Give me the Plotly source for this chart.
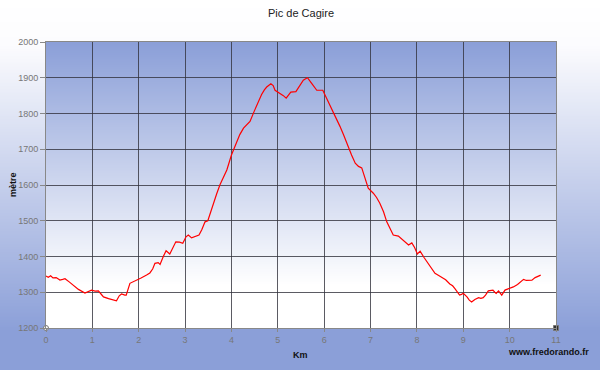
import base64, struct, zlib
import plotly.graph_objects as go

title_text = "Pic de Cagire"
x_title = "Km"
y_title = "mètre"
credit = "www.fredorando.fr"

dist_km = [0.00, 0.05, 0.10, 0.15, 0.22, 0.30, 0.36, 0.41, 0.50, 0.59, 0.70, 0.84, 0.92, 0.98,
           1.06, 1.13, 1.20, 1.24, 1.35, 1.45, 1.52, 1.58, 1.63, 1.70, 1.73, 1.81, 1.90, 1.96,
           2.05, 2.17, 2.24, 2.30, 2.35, 2.42, 2.46, 2.53, 2.59, 2.67, 2.74, 2.80, 2.88, 2.95,
           3.02, 3.07, 3.14, 3.21, 3.30, 3.36, 3.43, 3.49, 3.55, 3.61, 3.68, 3.75, 3.82, 3.90,
           4.00, 4.08, 4.18, 4.26, 4.33, 4.40, 4.49, 4.58, 4.65, 4.71, 4.76, 4.85, 4.90, 4.94,
           5.05, 5.12, 5.18, 5.23, 5.28, 5.39, 5.46, 5.55, 5.60, 5.64, 5.73, 5.80, 5.84, 5.97,
           6.05, 6.12, 6.20, 6.27, 6.34, 6.42, 6.49, 6.55, 6.59, 6.67, 6.74, 6.81, 6.87, 6.95,
           7.06, 7.13, 7.20, 7.28, 7.35, 7.42, 7.49, 7.60, 7.70, 7.82, 7.89, 7.95,
           8.01, 8.07, 8.15, 8.25, 8.32, 8.39, 8.47, 8.54, 8.62, 8.71, 8.77, 8.82, 8.88, 8.92, 8.96,
           9.00, 9.08, 9.13, 9.18, 9.25, 9.33, 9.38, 9.43, 9.48, 9.54, 9.60, 9.64, 9.68, 9.71, 9.76,
           9.83, 9.90, 10.00, 10.08, 10.17, 10.24, 10.30, 10.36, 10.42, 10.48, 10.55, 10.62, 10.67]
altitude_m = [1345, 1342, 1346, 1340, 1341, 1334, 1336, 1338, 1329, 1320, 1308, 1298, 1302, 1306,
              1303, 1304, 1293, 1287, 1282, 1278, 1276, 1290, 1295, 1292, 1292, 1325, 1330, 1334,
              1340, 1348, 1354, 1365, 1381, 1383, 1378, 1400, 1416, 1407, 1425, 1441, 1440, 1437,
              1455, 1460, 1452, 1455, 1460, 1475, 1497, 1500, 1525, 1549, 1575, 1600, 1620, 1642,
              1684, 1708, 1741, 1759, 1770, 1778, 1806, 1834, 1853, 1866, 1874, 1883, 1878, 1865,
              1857, 1850, 1843, 1852, 1860, 1861, 1874, 1893, 1897, 1900, 1884, 1870, 1865, 1865,
              1843, 1825, 1806, 1785, 1764, 1740, 1717, 1694, 1684, 1661, 1652, 1648, 1625, 1591,
              1577, 1565, 1549, 1525, 1497, 1480, 1460, 1457, 1446, 1432, 1438, 1425,
              1407, 1415, 1398, 1379, 1368, 1353, 1347, 1341, 1335, 1323, 1318, 1310, 1300, 1292, 1294,
              1297, 1287, 1278, 1273, 1280, 1285, 1283, 1285, 1292, 1304, 1305, 1306, 1300, 1297, 1304,
              1292, 1306, 1310, 1315, 1322, 1330, 1336, 1333, 1334, 1334, 1341, 1344, 1348]

corner_x = [0, 11]
corner_y = [1200, 1200]

x_ticks = list(range(0, 12))
y_ticks = list(range(1200, 2001, 100))


def gradient_png(stops, height=256, width=2):
    def col(t):
        for (t0, c0), (t1, c1) in zip(stops[:-1], stops[1:]):
            if t0 <= t <= t1:
                f = 0 if t1 == t0 else (t - t0) / (t1 - t0)
                return tuple(int(round(a + (b - a) * f)) for a, b in zip(c0, c1))
        return stops[-1][1] if t > stops[-1][0] else stops[0][1]
    raw = b""
    for r in range(height):
        c = col(r / (height - 1))
        raw += b"\x00" + bytes(c) * width
    def chunk(tag, data):
        return struct.pack(">I", len(data)) + tag + data + struct.pack(">I", zlib.crc32(tag + data) & 0xffffffff)
    png = b"\x89PNG\r\n\x1a\n" + chunk(b"IHDR", struct.pack(">IIBBBBB", width, height, 8, 2, 0, 0, 0))
    png += chunk(b"IDAT", zlib.compress(raw)) + chunk(b"IEND", b"")
    return "data:image/png;base64," + base64.b64encode(png).decode()


BLUE = (139, 159, 216)
WHITE = (255, 255, 255)
outer_bg = gradient_png([(0.0, WHITE), (0.12, (252, 252, 254)), (0.9, BLUE), (1.0, BLUE)])
plot_bg = gradient_png([(0.0, BLUE), (0.85, WHITE), (1.0, WHITE)])

L, R, T, B = 46, 44, 42, 42
W, H = 600, 370
pw, ph = W - L - R, H - T - B

fig = go.Figure()
fig.add_trace(go.Scatter(x=dist_km, y=altitude_m, mode="lines",
                         line=dict(color="#ff0000", width=1.2), hoverinfo="x+y"))
fig.add_trace(go.Scatter(x=corner_x, y=corner_y, mode="markers", cliponaxis=False,
                         marker=dict(size=5, color=["#ffffff", "#333333"],
                                     symbol=["circle", "square"],
                                     line=dict(color="#777777", width=1))))

grid_col = "rgba(50,50,60,0.8)"
fig.update_layout(
    width=W, height=H,
    margin=dict(l=L, r=R, t=T, b=B),
    showlegend=False,
    paper_bgcolor="rgba(0,0,0,0)",
    plot_bgcolor="rgba(0,0,0,0)",
    font=dict(family="Liberation Sans, Arial, sans-serif", size=9, color="#777777"),
    title=dict(text=title_text, x=0.5, xanchor="center", y=1 - 13 / H, yanchor="middle",
               xref="paper", font=dict(size=11, color="#222222")),
    xaxis=dict(range=[0, 11], tickvals=x_ticks, showgrid=True, gridcolor=grid_col, gridwidth=1,
               zeroline=False, showline=True, linecolor="#888888", linewidth=1, mirror=True,
               ticks="outside", ticklen=3, tickcolor="#888888", tickfont=dict(size=9, color="#777777")),
    yaxis=dict(range=[1200, 2000], tickvals=y_ticks, showgrid=True, gridcolor=grid_col, gridwidth=1,
               zeroline=False, showline=True, linecolor="#888888", linewidth=1, mirror=True,
               ticks="outside", ticklen=5, tickcolor="#888888", tickfont=dict(size=9, color="#777777")),
    images=[
        dict(source=outer_bg, xref="paper", yref="paper", x=-L / pw, y=1 + T / ph,
             sizex=W / pw, sizey=H / ph, xanchor="left", yanchor="top",
             sizing="stretch", layer="below"),
        dict(source=plot_bg, xref="paper", yref="paper", x=0, y=1, sizex=1, sizey=1,
             xanchor="left", yanchor="top", sizing="stretch", layer="below"),
    ],
    annotations=[
        dict(text="<b>%s</b>" % x_title, xref="paper", yref="paper", x=(300 - L) / pw,
             y=-(355 - (H - B)) / ph, xanchor="center", yanchor="middle", showarrow=False,
             font=dict(size=9, color="#111111")),
        dict(text="<b>%s</b>" % y_title, xref="paper", yref="paper", x=-(L - 13) / pw,
             y=0.5, xanchor="center", yanchor="middle", textangle=-90, showarrow=False,
             font=dict(size=9, color="#111111")),
        dict(text="<b>%s</b>" % credit, xref="paper", yref="paper", x=(591 - L) / pw,
             y=-(352 - (H - B)) / ph, xanchor="right", yanchor="middle", showarrow=False,
             font=dict(size=9, color="#111111")),
    ],
)

fig.write_html("out.html", config={"displayModeBar": False},
               post_script="document.body.style.margin='0';document.body.style.overflow='hidden';")
